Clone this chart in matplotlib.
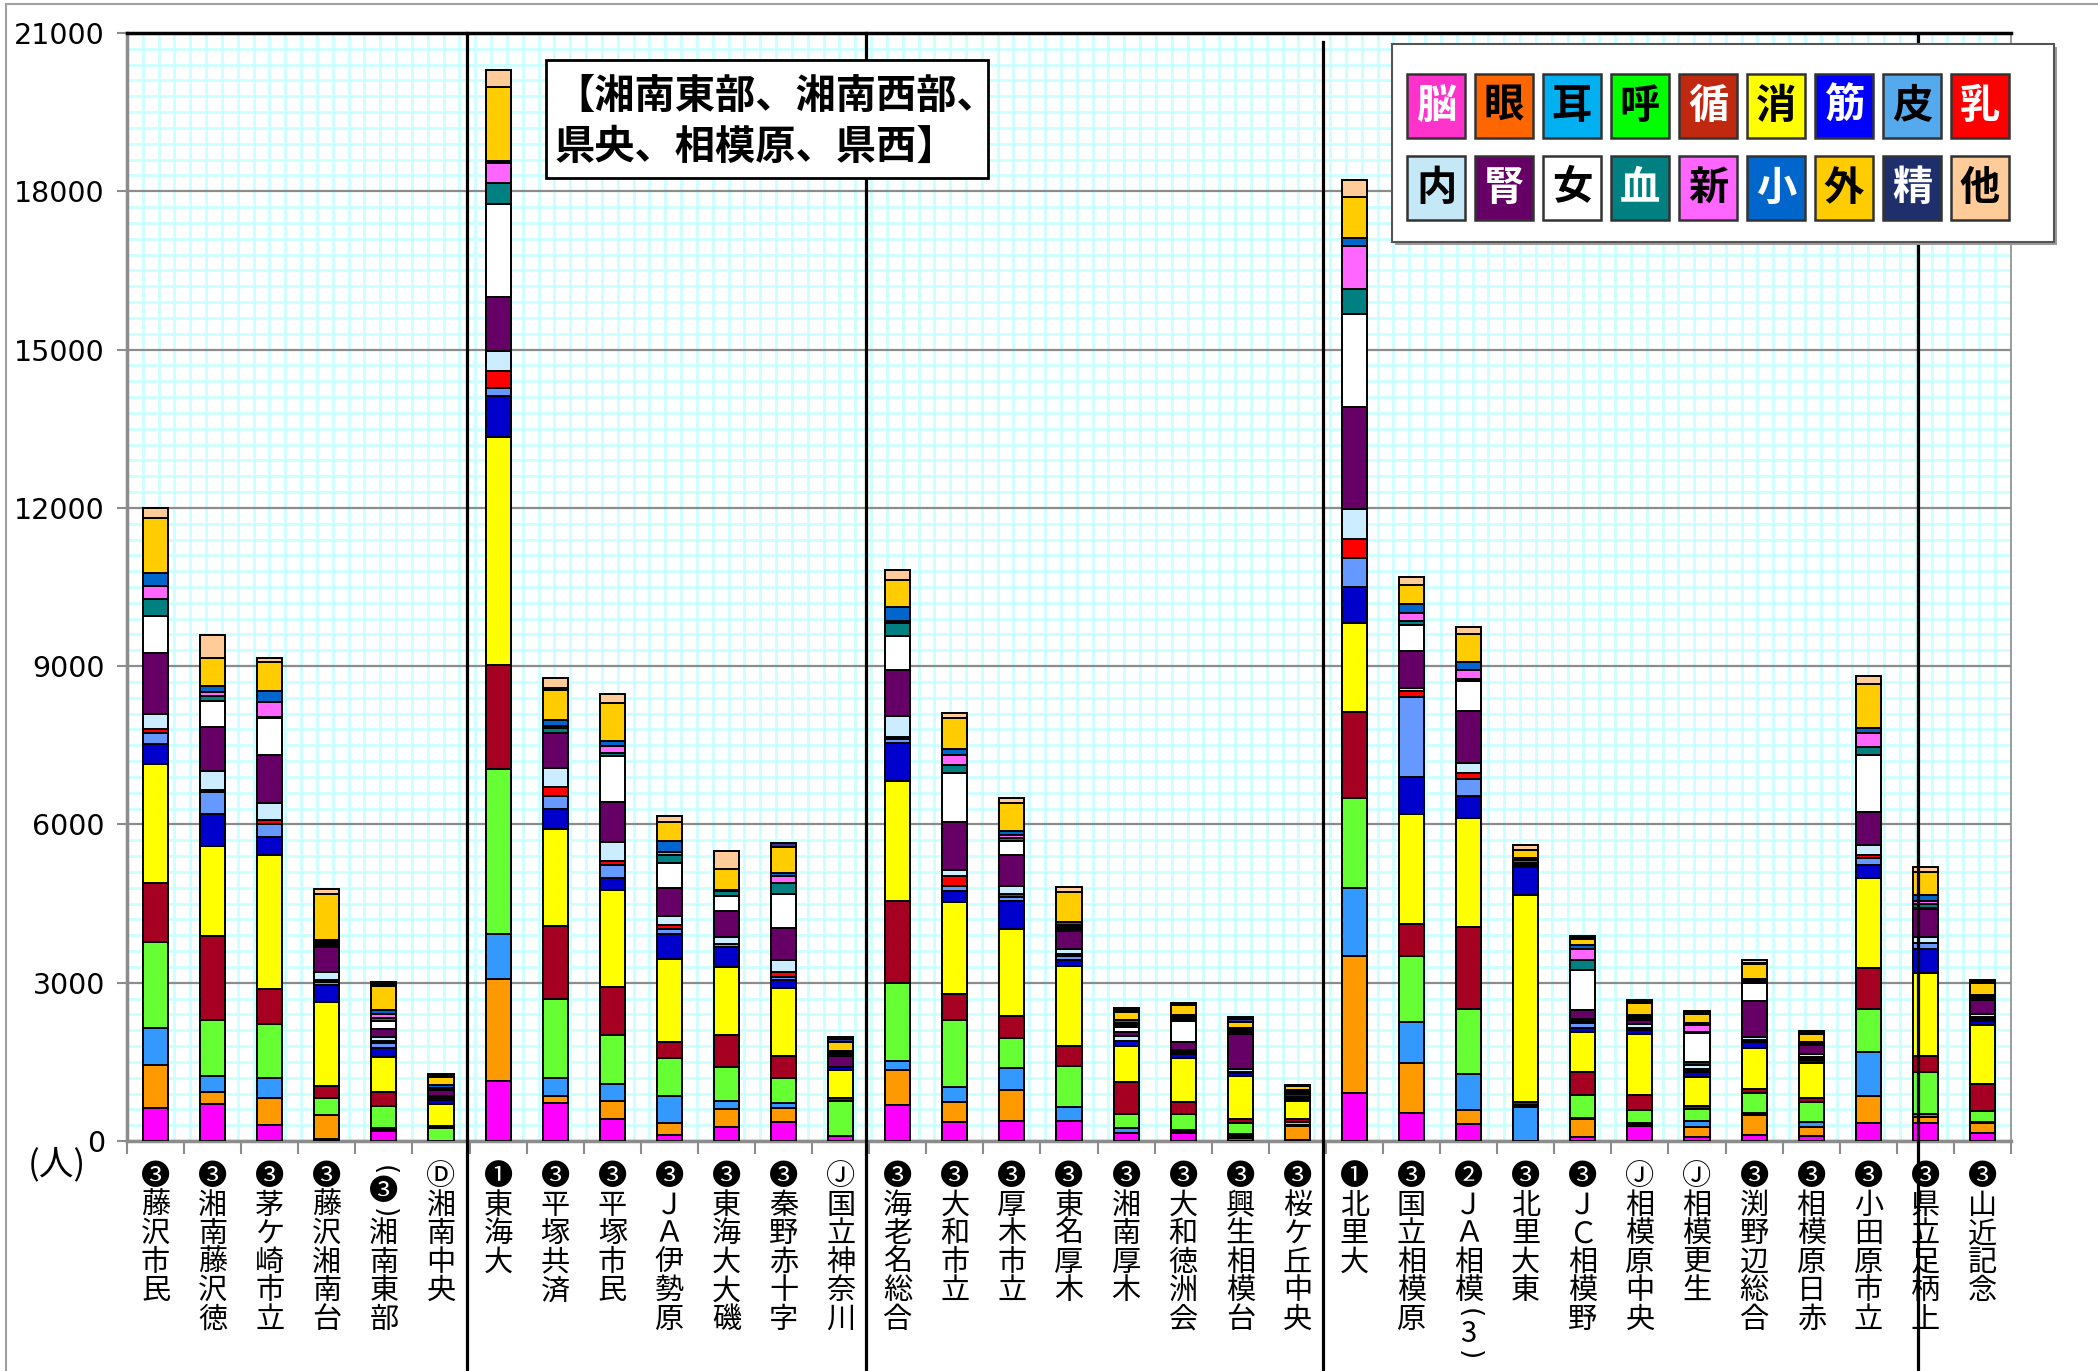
import numpy as np
import matplotlib
matplotlib.use("Agg")
import matplotlib.pyplot as plt
import matplotlib.transforms as mtransforms
from matplotlib.patches import Rectangle

plt.rcParams['font.family'] = ['Noto Sans CJK JP', 'DejaVu Sans']

# Hospitals (x axis, vertical labels)
hospitals = [
    "❸藤沢市民", "❸湘南藤沢徳", "❸茅ケ崎市立", "❸藤沢湘南台", "︵❸︶湘南東部", "Ⓓ湘南中央",
    "❶東海大", "❸平塚共済", "❸平塚市民", "❸ＪＡ伊勢原", "❸東海大大磯", "❸秦野赤十字", "Ⓙ国立神奈川",
    "❸海老名総合", "❸大和市立", "❸厚木市立", "❸東名厚木", "❸湘南厚木", "❸大和徳洲会", "❸興生相模台",
    "❸桜ケ丘中央",
    "❶北里大", "❸国立相模原", "❷ＪＡ相模︵3︶", "❸北里大東", "❸ＪＣ相模野", "Ⓙ相模原中央", "Ⓙ相模更生",
    "❸渕野辺総合", "❸相模原日赤", "❸小田原市立",
    "❸県立足柄上", "❸山近記念",
]

# Departments, stacked bottom -> top
departments = ["脳", "眼", "耳", "呼", "循", "消", "筋", "皮", "乳",
               "内", "腎", "女", "血", "新", "小", "外", "精", "他"]

nou = [617, 697, 296, 40, 195, 0, 1129, 721, 408, 109, 272, 354, 100, 675, 352, 388, 388, 158, 145, 60, 20,
       908, 526, 323, 0, 80, 279, 80, 114, 101, 348, 335, 145]
me = [825, 240, 521, 457, 25, 0, 1945, 136, 354, 231, 340, 272, 0, 668, 381, 574, 0, 0, 30, 30, 265,
      2605, 956, 263, 0, 340, 40, 186, 380, 171, 500, 114, 190]
mimi = [697, 296, 384, 0, 25, 0, 843, 340, 326, 517, 150, 95, 0, 165, 287, 416, 258, 86, 30, 40, 20,
        1279, 777, 681, 645, 20, 30, 106, 40, 95, 830, 63, 20]
kokyu = [1642, 1065, 1017, 320, 424, 240, 3128, 1496, 925, 707, 639, 476, 653, 1486, 1278, 574, 783, 273, 303, 215, 50,
         1709, 1255, 1231, 40, 440, 233, 240, 380, 380, 830, 790, 221]
junkan = [1105, 1578, 657, 224, 254, 40, 1972, 1387, 911, 313, 612, 408, 68, 1558, 481, 416, 366, 610, 234, 63, 60,
          1637, 598, 1554, 60, 430, 286, 50, 76, 63, 780, 316, 500]
shoka = [2259, 1706, 2547, 1594, 678, 424, 4325, 1836, 1836, 1564, 1292, 1292, 517, 2269, 1745, 1644, 1522, 682, 834, 820, 335,
         1673, 2091, 2067, 3924, 760, 1164, 560, 780, 660, 1700, 1560, 1130]
kin = [376, 617, 336, 328, 169, 68, 775, 381, 218, 476, 381, 163, 68, 718, 215, 538, 108, 86, 70, 63, 40,
       693, 693, 418, 532, 66, 66, 86, 114, 63, 240, 460, 63]
hifu = [208, 417, 248, 50, 85, 40, 163, 245, 258, 95, 40, 54, 0, 86, 101, 79, 80, 0, 40, 20, 20,
        538, 1518, 323, 30, 93, 20, 40, 20, 30, 133, 107, 40]
nyu = [80, 30, 80, 30, 40, 0, 313, 163, 68, 82, 0, 82, 0, 36, 180, 57, 40, 0, 0, 0, 0,
       359, 120, 120, 0, 40, 20, 20, 10, 20, 51, 0, 44]
naibun = [280, 376, 320, 160, 68, 40, 381, 367, 354, 163, 136, 231, 0, 395, 115, 144, 93, 93, 35, 63, 20,
          574, 60, 191, 20, 40, 86, 80, 63, 60, 190, 126, 63]
jin = [1153, 825, 913, 465, 169, 110, 1020, 653, 775, 544, 503, 612, 204, 876, 912, 600, 337, 72, 158, 650, 60,
       1936, 693, 980, 20, 180, 73, 53, 680, 171, 630, 520, 260]
josei = [705, 497, 689, 50, 150, 20, 1768, 0, 857, 476, 272, 639, 30, 646, 933, 250, 50, 93, 398, 40, 30,
         1757, 502, 574, 0, 760, 20, 540, 340, 20, 1090, 30, 20]
ketsu = [320, 96, 32, 30, 40, 20, 394, 95, 68, 136, 95, 204, 20, 237, 144, 72, 40, 50, 40, 30, 20,
         478, 72, 24, 53, 186, 30, 30, 20, 15, 139, 63, 20]
shinsei = [256, 64, 288, 30, 85, 10, 381, 54, 122, 68, 0, 136, 20, 50, 201, 57, 30, 40, 30, 20, 0,
           813, 143, 179, 0, 213, 20, 120, 10, 13, 272, 63, 20]
shoni = [240, 120, 208, 40, 85, 40, 30, 109, 109, 204, 20, 68, 30, 258, 108, 72, 57, 50, 37, 36, 20,
         155, 179, 155, 33, 66, 25, 40, 44, 15, 95, 107, 22]
geka = [1041, 537, 545, 857, 440, 170, 1401, 560, 721, 367, 408, 490, 163, 503, 580, 530, 574, 158, 190, 114, 80,
        777, 347, 526, 153, 110, 216, 170, 290, 145, 840, 440, 240]
seishin = [0, 0, 0, 0, 40, 20, 0, 50, 0, 0, 0, 68, 68, 0, 0, 0, 0, 36, 25, 40, 0,
           0, 0, 0, 0, 33, 30, 35, 20, 30, 0, 0, 30]
sonota = [184, 425, 80, 104, 40, 20, 340, 190, 163, 109, 340, 0, 30, 194, 100, 93, 86, 36, 25, 40, 28,
          323, 155, 131, 93, 33, 30, 35, 50, 30, 150, 100, 30]

series = [nou, me, mimi, kokyu, junkan, shoka, kin, hifu, nyu,
          naibun, jin, josei, ketsu, shinsei, shoni, geka, seishin, sonota]

bar_colors = ['#FF00FF', '#FF9900', '#3399FF', '#66FF33', '#A50021', '#FFFF00', '#0000CC', '#6699FF', '#FF0000',
              '#CCECFF', '#660066', '#FFFFFF', '#008080', '#FF66FF', '#0066CC', '#FFCC00', '#333399', '#FFCC99']
legend_colors = ['#FF33CC', '#FF6600', '#00B0F0', '#00FF00', '#C0280F', '#FFFF00', '#0000FF', '#55AAEE', '#FF0000',
                 '#C5E8F7', '#660066', '#FFFFFF', '#008080', '#FF66FF', '#0066CC', '#FFCC00', '#1F2F6B', '#FFCC99']
legend_text = ['white', 'black', 'black', 'black', 'white', 'black', 'white', 'black', 'white',
               'black', 'white', 'black', 'white', 'black', 'white', 'black', 'white', 'black']

# group separators (x position, top end in axes fraction)
separators = [5.45, 12.45, 20.45, 30.87]
sep_top = [1.0, 1.0, 0.992, 0.997]

W, H = 2098, 1371
fig = plt.figure(figsize=(W / 100, H / 100), dpi=100)
fig.patch.set_facecolor('white')
ax = fig.add_axes([127 / W, 1 - 1141 / H, 1884 / W, 1108 / H])

x = np.arange(len(hospitals))
bottom = np.zeros(len(hospitals))
for vals, col in zip(series, bar_colors):
    ax.bar(x, vals, 0.44, bottom=bottom, color=col, edgecolor='black', linewidth=1.4, zorder=3)
    bottom += np.array(vals)

ax.set_xlim(-0.5, len(hospitals) - 0.5)
ax.set_ylim(0, 21000)

# cyan background grid
for yy in np.arange(300, 21000, 300):
    if yy % 3000:
        ax.axhline(yy, color='#CCFFFF', lw=2, zorder=0.3)
step = 15.83 / (1884 / len(hospitals))
for xx in np.arange(-0.5 + step, len(hospitals) - 0.5, step):
    ax.axvline(xx, color='#CCFFFF', lw=2, zorder=0.3)

ax.set_yticks(np.arange(0, 21001, 3000))
ax.yaxis.grid(True, color='#8C8C8C', lw=1.6)
ax.set_axisbelow(True)
ax.set_xticks(np.arange(-0.5, len(hospitals), 1))
ax.set_xticklabels([])
ax.tick_params(axis='x', length=9, width=1.5, color='#8C8C8C', direction='out')
ax.tick_params(axis='y', length=7, width=1.5, color='#8C8C8C', direction='out', pad=9)
for lab in ax.get_yticklabels():
    lab.set_family('DejaVu Sans')
    lab.set_fontsize(20.5)

for side in ['left', 'bottom']:
    ax.spines[side].set_color('#8C8C8C')
    ax.spines[side].set_linewidth(2.5)
ax.spines['top'].set_color('black')
ax.spines['top'].set_linewidth(2.5)
ax.spines['right'].set_color('#8C8C8C')
ax.spines['right'].set_linewidth(1.2)

blend = mtransforms.blended_transform_factory(ax.transData, ax.transAxes)

# vertical hospital labels, one character per slot
pitch = 28.5 / 1108
start = (1141 - 1163) / 1108
paren = {'︵': '(', '︶': ')'}
for i, lab in enumerate(hospitals):
    pos = 0.0
    for ch in lab:
        sz = 0.5 if ch in paren else 1.0
        cy = start - (pos + sz / 2) * pitch
        if ch in paren:
            # vertical bracket: draw the round bracket turned on its side
            ax.text(i, cy, paren[ch], transform=blend, ha='center', va='center', fontsize=19,
                    rotation=-90, family='DejaVu Sans', clip_on=False)
        else:
            ax.text(i, cy, ch, transform=blend, ha='center', va='center', fontsize=21,
                    family=['Noto Sans CJK JP', 'DejaVu Sans'], clip_on=False)
        pos += sz

for sx, st in zip(separators, sep_top):
    ax.plot([sx, sx], [-0.25, st], transform=blend, color='black', lw=2.3, clip_on=False, zorder=5)

fig.text(57 / W, 1 - 1165 / H, "(人)", ha='center', va='center', fontsize=25)

# overlay in pixel coordinates for boxes
ov = fig.add_axes([0, 0, 1, 1], zorder=10)
ov.set_xlim(0, W)
ov.set_ylim(H, 0)
ov.axis('off')
ov.patch.set_alpha(0)

ov.plot([6, 6], [4, H], color='#A0A0A0', lw=1.5)
ov.plot([6, W], [4, 4], color='#A0A0A0', lw=1.5)

# region text box
ov.add_patch(Rectangle((546, 60), 442, 118, facecolor='white', edgecolor='black', lw=2))
ov.text(554, 122, "【湘南東部、湘南西部、\n県央、相模原、県西】", ha='left', va='center',
        fontsize=29, fontweight='bold', linespacing=1.3)

# department legend
ov.add_patch(Rectangle((1395, 47), 662, 198, facecolor='#9A9A9A', edgecolor='none'))
ov.add_patch(Rectangle((1392, 44), 662, 198, facecolor='white', edgecolor='#555555', lw=1.5))
for k, name in enumerate(departments):
    row, col = divmod(k, 9)
    cx = 1436 + 68 * col
    cy = 106 + 82 * row
    ov.add_patch(Rectangle((cx - 29, cy - 32), 58, 64, facecolor=legend_colors[k],
                           edgecolor='#333333', lw=1.8))
    ov.text(cx, cy, name, ha='center', va='center', fontsize=29, fontweight='bold',
            color=legend_text[k])

fig.savefig("out.png", dpi=100)
